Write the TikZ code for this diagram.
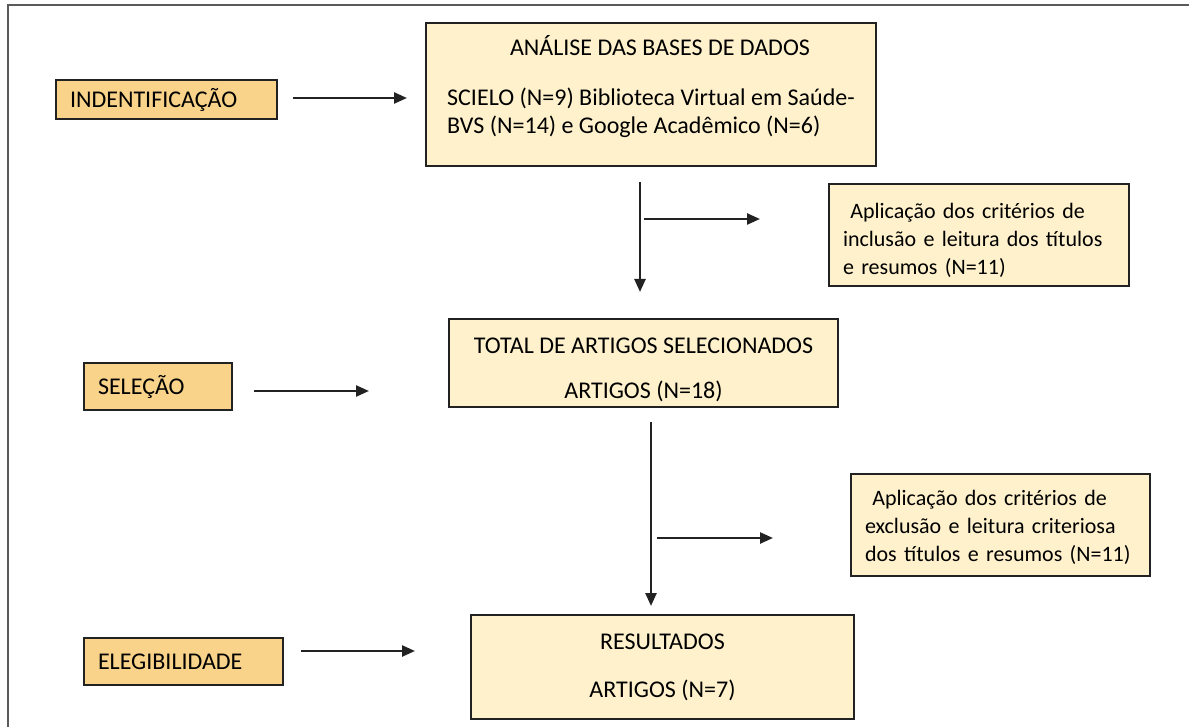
\documentclass[tikz,border=0pt]{standalone}
\usepackage{fontspec}
\setmainfont{Carlito}
\usetikzlibrary{arrows.meta,positioning}

\definecolor{etapafill}{HTML}{F9D38A}
\definecolor{caixafill}{HTML}{FEF1CB}
\definecolor{linha}{HTML}{222222}
\definecolor{moldura}{HTML}{5A5A5A}

\begin{document}
\begin{tikzpicture}[x=1pt,y=-1pt,>={Triangle[length=13pt,width=11pt]},
  font=\fontsize{24}{28}\selectfont]

  \tikzstyle{etapa}=[rectangle,draw=linha,line width=2pt,fill=etapafill,anchor=north west,
    inner xsep=14pt,align=left]
  \tikzstyle{caixa}=[rectangle,draw=linha,line width=2pt,fill=caixafill,anchor=north west]
  \tikzstyle{lateral}=[caixa,font=\fontsize{22}{28}\selectfont,align=left,inner xsep=14pt]
  \tikzstyle{seta}=[->,draw=linha,line width=2.4pt]

  \useasboundingbox (0,0) rectangle (1189,727);
  \draw[moldura,line width=2.5pt] (8,740) -- (8,5) -- (1200,5);

  % etapas
  \node[etapa,minimum width=221pt,minimum height=39pt,text width=193pt] (ident) at (55,79) {INDENTIFICAÇÃO};
  \node[etapa,minimum width=148pt,minimum height=47pt,text width=120pt] (selecao) at (83,362) {SELEÇÃO};
  \node[etapa,minimum width=199pt,minimum height=47pt,text width=171pt] (elig) at (83,637) {ELEGIBILIDADE};

  % caixas
  \node[caixa,minimum width=450pt,minimum height=143pt] (analise) at (425,22)
    {\begin{tabular}{@{}l@{}}
      \multicolumn{1}{@{}c@{}}{\hspace{18pt}ANÁLISE DAS BASES DE DADOS}\\[22pt]
      SCIELO (N=9) Biblioteca Virtual em Saúde-\\
      BVS (N=14) e Google Acadêmico (N=6)\\[12pt]
    \end{tabular}};
  \node[lateral,minimum width=300pt,minimum height=102pt,text width=272pt] (incl) at (828,183)
    {\rule{0pt}{26pt}\ Aplicação dos critérios de\\
     inclusão e leitura dos títulos\\
     e resumos (N=11)};
  \node[caixa,minimum width=389pt,minimum height=88pt,align=center] (total) at (448,318)
    {\rule{0pt}{30pt}TOTAL DE ARTIGOS SELECIONADOS\\[17pt]
     ARTIGOS (N=18)};
  \node[lateral,minimum width=299pt,minimum height=102pt,text width=271pt] (excl) at (850,473)
    {\rule{0pt}{20pt}\ Aplicação dos critérios de\\
     exclusão e leitura criteriosa\\
     dos títulos e resumos (N=11)};
  \node[caixa,minimum width=383pt,minimum height=104pt,align=center] (result) at (470,614)
    {RESULTADOS\\[20pt]
     ARTIGOS (N=7)};

  % setas
  \draw[seta] ([xshift=15pt,yshift=1.5pt]ident.east) -- +(114pt,0);
  \draw[seta] ([xshift=21pt,yshift=-4.5pt]selecao.east) -- +(115pt,0);
  \draw[seta] ([xshift=17pt,yshift=10.5pt]elig.east) -- +(114pt,0);
  \draw[seta] ([xshift=-11pt,yshift=-15pt]analise.south) -- +(0,-110pt);
  \draw[seta] ([xshift=-7pt,yshift=-52pt]analise.south) -- +(116pt,0);
  \draw[seta] ([xshift=7.5pt,yshift=-14pt]total.south) -- +(0,-184pt);
  \draw[seta] ([xshift=13.5pt,yshift=-130pt]total.south) -- +(116pt,0);

\end{tikzpicture}
\end{document}
